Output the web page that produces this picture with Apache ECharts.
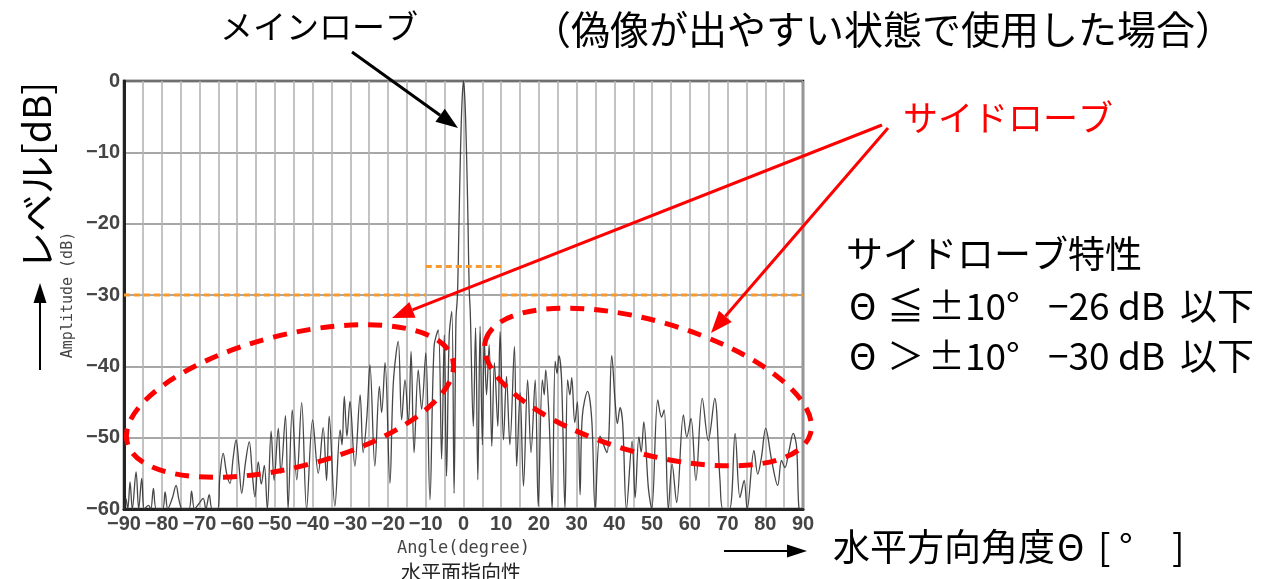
<!DOCTYPE html>
<html>
<head>
<meta charset="utf-8">
<style>
  html, body { margin: 0; padding: 0; background: #fff; }
  #chart { width: 1276px; height: 579px; }
</style>
<script src="https://cdn.jsdelivr.net/npm/echarts@6/dist/echarts.min.js"></script>
</head>
<body>
<div id="chart"></div>
<script>
// horizontal beam pattern (angle in degrees, level in dB)
const angles = [
  -90, -89.5, -89, -88.4, -87.8, -86.8, -86.1, -85.3, -84.6, -83.5,
  -82.9, -82.2, -81.4, -79.8, -79.1, -78.4, -77.2, -76.2, -75.4, -74.5,
  -72.8, -72.1, -71.3, -70.2, -69, -68.3, -67.4, -66.6, -65.2, -64.6,
  -63.7, -62.8, -61.9, -61.1, -60.3, -59.5, -58.8, -57.8, -56.8, -56,
  -55.3, -54.4, -53.6, -52.8, -52, -51, -50.2, -49.1, -48.4, -47.2,
  -46.5, -45.4, -44.2, -42.9, -41.6, -40, -38.5, -37.2, -36.3, -35.6,
  -34.1, -32.7, -32.2, -31.6, -30.9, -30.1, -28.8, -27.4, -26.6, -25.6,
  -24.8, -23.5, -22.3, -21.7, -20.8, -19.5, -18.6, -17.3, -16.4, -15.5,
  -14.6, -13.9, -13.1, -12, -11.1, -10, -8.9, -7.8, -6.7, -5.8,
  -5.1, -4.5, -3.8, -3.1, -2.5, -2, -1.6, -1.2, -0.8, -0.4,
  0, 0.4, 0.8, 1.2, 1.5, 1.8, 2.6, 3.2, 3.8, 4.4,
  5, 5.5, 6.1, 6.8, 7.5, 8.2, 9.1, 9.7, 10.6, 11.4,
  12.3, 13.5, 14.1, 15, 15.9, 17, 17.9, 19, 19.8, 20.9,
  21.4, 21.8, 22.7, 23.5, 24.3, 24.8, 25.3, 26, 26.9, 27.6,
  28.2, 28.7, 29.5, 30.2, 30.9, 31.5, 32.9, 34, 34.9, 36.2,
  38, 39.3, 40.2, 40.8, 41.5, 42.2, 43.2, 44.7, 45.5, 46.5,
  47.1, 47.8, 49, 49.9, 51.5, 52.5, 53.2, 54.3, 55.3, 56.5,
  58.3, 59.2, 60.3, 61.6, 63.3, 64.9, 66.6, 68, 68.8, 70.5,
  72, 73.3, 74.4, 75.2, 77, 78, 79, 80.1, 81.7, 83.3,
  84.3, 85.2, 86.3, 87.4, 88.3, 88.9, 89.5, 90
];
const levels = [
  -60, -58.5, -60, -56.2, -60, -54.8, -60, -55.7, -60, -59.5,
  -60, -57.1, -60, -60, -57.6, -60, -58.5, -56.7, -58.8, -60,
  -60, -57.5, -60, -59.3, -58.5, -60, -58, -60, -60, -55.5,
  -52.2, -55, -56.4, -53, -50.3, -54, -57.8, -53.5, -50.6, -55,
  -58.3, -53.4, -56.5, -53.9, -60, -49.1, -56, -48.7, -55, -46.9,
  -60, -46.1, -55.9, -45.1, -60, -47.5, -55, -48.6, -56, -47,
  -59.6, -48.9, -51, -44.2, -49.8, -44.9, -54, -44, -52.1, -47,
  -39.8, -54, -42.8, -46.5, -39.5, -56.4, -42.3, -36.5, -47.5, -41.9,
  -48, -37.9, -52.1, -40.5, -46, -38.1, -58.7, -37.2, -34.9, -53,
  -35.6, -55.4, -35.8, -32.3, -57.8, -33.5, -30, -20, -10, -3,
  0, -3, -10, -20, -29, -32.5, -48.4, -34.6, -55.9, -34.4,
  -51, -36, -44, -37, -51.2, -39.5, -48.4, -35.1, -50.3, -41.4,
  -51, -37.2, -54, -43.7, -56.8, -41.9, -52.1, -41.9, -59.6, -41.9,
  -44, -40.5, -47.5, -60, -39.3, -41, -38.5, -41.9, -60, -41.9,
  -44, -41.6, -47.9, -45, -58, -47, -43.5, -47.5, -60, -49.8,
  -52.1, -38.5, -45, -48, -45.8, -48, -60, -50.5, -58.4, -49.9,
  -52, -47.8, -57, -60, -44.7, -47.1, -46.1, -60, -53.7, -59.1,
  -46.8, -49.9, -47.3, -56, -44.5, -50.4, -44.5, -56, -60, -60,
  -49.4, -58.4, -56, -60, -51.8, -55.1, -52.7, -48.7, -53.2, -56.7,
  -53.2, -54.2, -51.8, -49.4, -51.3, -59.8, -60, -60
];

// sidelobe limits: edges of the angle ranges and the limit level in each range
const limitEdges = [-90, -10, 10, 90];
const limitLevels = [-30, -26, -30];

const JP = "'Noto Sans CJK JP', sans-serif";
const TICK_FONT = "'Liberation Sans', Arial, sans-serif";

const chart = echarts.init(document.getElementById('chart'));

const arrow = (x1, y1, x2, y2, color, lw, hl, hw) => {
  const a = Math.atan2(y2 - y1, x2 - x1);
  const bx = x2 - hl * Math.cos(a);
  const by = y2 - hl * Math.sin(a);
  const px = (-Math.sin(a) * hw) / 2;
  const py = (Math.cos(a) * hw) / 2;
  return [
    { type: 'line', z: 100, shape: { x1, y1, x2: bx, y2: by }, style: { stroke: color, lineWidth: lw } },
    { type: 'polygon', z: 100, shape: { points: [[x2, y2], [bx + px, by + py], [bx - px, by - py]] }, style: { fill: color } },
  ];
};

const label = (text, x, y, size, color, extra) => ({
  type: 'text',
  z: 100,
  x,
  y,
  ...(extra || {}),
  style: {
    text,
    x: 0,
    y: 0,
    font: `${size}px ${JP}`,
    fill: color,
    align: (extra && extra.align) || 'left',
    textAlign: (extra && extra.align) || 'left',
    verticalAlign: (extra && extra.valign) || 'top',
    textVerticalAlign: (extra && extra.valign) || 'top',
  },
});

// a line of text laid out piece by piece, to keep the wide spacing of the original
const spaced = (pieces, y, size) => pieces.map(([t, x]) => label(t, x, y, size, '#000'));

const dashedEllipse = (cx, cy, rx, ry, rotation) => ({
  type: 'ellipse',
  z: 100,
  x: cx,
  y: cy,
  rotation,
  shape: { cx: 0, cy: 0, rx, ry },
  style: { fill: 'none', stroke: '#ff0000', lineWidth: 5, lineDash: [14, 10] },
});

const minus = (v) => String(v).replace('-', '\u2212');

chart.setOption({
  animation: false,
  backgroundColor: '#fff',
  grid: {
    left: 124,
    right: 473,
    top: 81,
    bottom: 70,
    show: true,
    borderColor: '#222',
    borderWidth: 2.5,
  },
  xAxis: {
    type: 'value',
    min: -90,
    max: 90,
    interval: 5,
    name: 'Angle(degree)',
    nameLocation: 'middle',
    nameGap: 31,
    nameTextStyle: { fontFamily: 'DejaVu Sans Mono', fontSize: 17, color: '#444' },
    axisLine: { show: true, onZero: false, lineStyle: { color: '#222', width: 3 } },
    axisTick: { show: false },
    axisLabel: {
      margin: 5,
      fontFamily: TICK_FONT,
      fontWeight: 'bold',
      fontSize: 20,
      color: '#444',
      formatter: (v) => (v % 10 === 0 ? minus(v) : ''),
    },
    splitLine: { show: true, lineStyle: { color: '#b4b4b4', width: 1.6 } },
  },
  yAxis: {
    type: 'value',
    min: -60,
    max: 0,
    interval: 10,
    name: 'Amplitude (dB)',
    nameLocation: 'middle',
    nameGap: 46,
    nameTextStyle: { fontFamily: 'DejaVu Sans Mono', fontSize: 15, color: '#444' },
    axisLine: { show: true, onZero: false, lineStyle: { color: '#222', width: 3 } },
    axisTick: { show: false },
    axisLabel: {
      margin: 4,
      fontFamily: TICK_FONT,
      fontWeight: 'bold',
      fontSize: 20,
      color: '#444',
      formatter: (v) => minus(v),
    },
    splitLine: { show: true, lineStyle: { color: '#8a8a8a', width: 1.5 } },
  },
  series: [
    {
      name: 'pattern',
      type: 'line',
      data: angles.map((a, i) => [a, levels[i]]),
      showSymbol: false,
      smooth: 0.35,
      clip: true,
      z: 3,
      lineStyle: { color: '#333', width: 1.3, opacity: 0.9 },
    },
    ...limitLevels.map((lv, i) => ({
      name: 'limit' + i,
      type: 'line',
      data: [[limitEdges[i], lv], [limitEdges[i + 1], lv]],
      showSymbol: false,
      z: 4,
      lineStyle: { color: '#f89a2c', width: 3, type: [6, 4] },
    })),
  ],
  graphic: [
    label('メインローブ', 220, 10, 33, '#000'),
    label('（偽像が出やすい状態で使用した場合）', 532, 10, 39, '#000'),
    label('サイドローブ', 903, 100, 35, '#ff0000'),
    label('サイドローブ特性', 846, 235, 37, '#000'),
    ...spaced([['Θ', 849], ['≦', 887], ['±10°', 928], ['−26 dB', 1048], ['以下', 1180]], 287, 37),
    ...spaced([['Θ', 849], ['＞', 887], ['±10°', 928], ['−30 dB', 1048], ['以下', 1180]], 337, 37),
    ...spaced([['水平方向角度', 833], ['Θ', 1057], ['[', 1098], ['°', 1119], [']', 1172]], 528, 37),
    label('レベル[dB]', 37, 176, 38, '#000', { rotation: Math.PI / 2, align: 'center', valign: 'middle' }),
    label('水平面指向性', 461, 562, 20, '#222', { align: 'center' }),
    ...arrow(352, 52, 458, 128, '#000', 3, 22, 16),
    ...arrow(882, 125, 392, 318, '#ff0000', 3, 22, 17),
    ...arrow(888, 128, 711, 333, '#ff0000', 3, 22, 17),
    ...arrow(40, 370, 40, 283, '#000', 2, 20, 13),
    ...arrow(724, 551, 807, 551, '#000', 2, 20, 13),
    dashedEllipse(290, 401, 168, 66, 0.25),
    dashedEllipse(648, 387, 169, 66, -0.281),
  ],
});
</script>
</body>
</html>
